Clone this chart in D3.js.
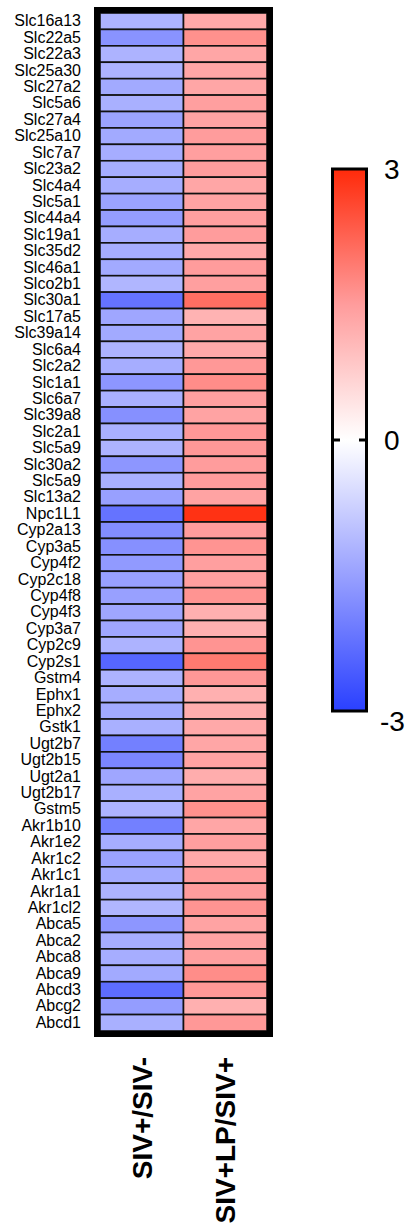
<!DOCTYPE html>
<html>
<head>
<meta charset="utf-8">
<script src="https://cdn.jsdelivr.net/npm/d3@7"></script>
<style>
  body { margin: 0; background: #fff; }
  text { font-family: "Liberation Sans", Arial, sans-serif; }
</style>
</head>
<body>
<div id="chart"></div>
<script>
var genes = ["Slc16a13", "Slc22a5", "Slc22a3", "Slc25a30", "Slc27a2", "Slc5a6", "Slc27a4", "Slc25a10",
  "Slc7a7", "Slc23a2", "Slc4a4", "Slc5a1", "Slc44a4", "Slc19a1", "Slc35d2", "Slc46a1", "Slco2b1",
  "Slc30a1", "Slc17a5", "Slc39a14", "Slc6a4", "Slc2a2", "Slc1a1", "Slc6a7", "Slc39a8", "Slc2a1",
  "Slc5a9", "Slc30a2", "Slc5a9", "Slc13a2", "Npc1L1", "Cyp2a13", "Cyp3a5", "Cyp4f2", "Cyp2c18",
  "Cyp4f8", "Cyp4f3", "Cyp3a7", "Cyp2c9", "Cyp2s1", "Gstm4", "Ephx1", "Ephx2", "Gstk1", "Ugt2b7",
  "Ugt2b15", "Ugt2a1", "Ugt2b17", "Gstm5", "Akr1b10", "Akr1e2", "Akr1c2", "Akr1c1", "Akr1a1",
  "Akr1cl2", "Abca5", "Abca2", "Abca8", "Abca9", "Abcd3", "Abcg2", "Abcd1"];

var columns = ["SIV+/SIV-", "SIV+LP/SIV+"];

// log fold change, first column
var sivVsNeg = [-1.2, -1.7, -1.2, -1.2, -1.35, -1.25, -1.45, -1.35, -1.3, -1.3, -1.3, -1.45, -1.55,
  -1.3, -1.3, -1.35, -1.15, -2.2, -1.4, -1.35, -1.2, -1.3, -1.65, -1.25, -1.75, -1.25, -1.2, -1.65,
  -1.25, -1.5, -2.2, -1.8, -1.75, -1.6, -1.5, -1.5, -1.4, -1.4, -1.2, -2.4, -1.2, -1.3, -1.35, -1.25,
  -2.0, -1.9, -1.4, -1.25, -1.2, -2.0, -1.3, -1.45, -1.35, -1.2, -1.15, -1.65, -1.3, -1.3, -1.35,
  -2.3, -1.55, -1.25];

// second column
var lpVsSiv = [1.3, 1.65, 1.35, 1.35, 1.35, 1.45, 1.4, 1.5, 1.45, 1.5, 1.35, 1.4, 1.45, 1.5, 1.3,
  1.5, 1.45, 2.1, 1.15, 1.4, 1.3, 1.55, 1.7, 1.45, 1.4, 1.55, 1.55, 1.5, 1.5, 1.4, 2.9, 1.5, 1.6,
  1.45, 1.45, 1.6, 1.2, 1.2, 1.6, 1.95, 1.55, 1.2, 1.25, 1.3, 1.35, 1.4, 1.25, 1.4, 1.65, 1.35, 1.45,
  1.3, 1.5, 1.5, 1.6, 1.4, 1.4, 1.45, 1.7, 1.55, 1.2, 1.55];

var legendTicks = [3, 0, -3];

var svg = d3.select("#chart").append("svg")
  .attr("width", 413)
  .attr("height", 1228);

var cells = [];
genes.forEach(function(g, i) {
  cells.push({ row: i, col: columns[0], value: sivVsNeg[i] });
  cells.push({ row: i, col: columns[1], value: lpVsSiv[i] });
});

var xScale = d3.scaleBand().domain(columns).range([100, 267]);
var yScale = d3.scaleBand().domain(d3.range(genes.length)).range([13, 1031]);

// blue - white - red, pinkish in the middle of each half
var colorStops = [-3, -1.5, 0, 1.5, 3];
var color = d3.scaleLinear()
  .domain(colorStops)
  .range(["#2a40ff", "#98a0ff", "#ffffff", "#ff9c9c", "#ff2a0a"]);

svg.append("g").selectAll("rect")
  .data(cells)
  .enter()
  .append("rect")
  .attr("x", d => xScale(d.col))
  .attr("y", d => yScale(d.row))
  .attr("width", xScale.bandwidth())
  .attr("height", yScale.bandwidth())
  .attr("fill", d => color(d.value))
  .attr("stroke", "#111")
  .attr("stroke-width", 1.6);

// heavy frame
svg.append("rect")
  .attr("x", 97)
  .attr("y", 10)
  .attr("width", 173)
  .attr("height", 1024)
  .attr("fill", "none")
  .attr("stroke", "#000")
  .attr("stroke-width", 6);

// gene labels
var leftAxis = d3.axisLeft(yScale)
  .tickSize(0)
  .tickPadding(0)
  .tickFormat(i => genes[i]);

var yAxis = svg.append("g")
  .attr("transform", "translate(81, 0)")
  .call(leftAxis);
yAxis.select(".domain").remove();
yAxis.selectAll("text")
  .attr("font-size", "16px")
  .attr("font-family", "'Liberation Sans', Arial, sans-serif")
  .attr("fill", "#000");

// column labels
svg.append("g").selectAll("text")
  .data(columns)
  .enter()
  .append("text")
  .attr("transform", d => `translate(${xScale(d) + xScale.bandwidth() / 2 + 10}, 1057) rotate(-90)`)
  .attr("text-anchor", "end")
  .attr("font-size", "28px")
  .attr("font-weight", "bold")
  .text(d => d);

// colour legend
var legendScale = d3.scaleLinear().domain([-3, 3]).range([711, 169]);

var defs = svg.append("defs");
var grad = defs.append("linearGradient")
  .attr("id", "legendGrad")
  .attr("x1", 0).attr("y1", 1).attr("x2", 0).attr("y2", 0);
colorStops.forEach(function(v) {
  grad.append("stop")
    .attr("offset", (v + 3) / 6)
    .attr("stop-color", color(v));
});

svg.append("rect")
  .attr("x", 332.5)
  .attr("y", legendScale(3))
  .attr("width", 34)
  .attr("height", legendScale(-3) - legendScale(3))
  .attr("fill", "url(#legendGrad)")
  .attr("stroke", "#000")
  .attr("stroke-width", 3);

// small ticks at zero
svg.append("line")
  .attr("x1", 332).attr("x2", 340)
  .attr("y1", legendScale(0)).attr("y2", legendScale(0))
  .attr("stroke", "#000").attr("stroke-width", 3);
svg.append("line")
  .attr("x1", 359).attr("x2", 367)
  .attr("y1", legendScale(0)).attr("y2", legendScale(0))
  .attr("stroke", "#000").attr("stroke-width", 3);

svg.append("g").selectAll("text")
  .data(legendTicks)
  .enter()
  .append("text")
  .attr("x", d => d < 0 ? 380 : 384)
  .attr("y", d => legendScale(d) + (d < 0 ? 10 : 0))
  .attr("dy", "0.36em")
  .attr("font-size", "28px")
  .text(d => d);
</script>
</body>
</html>
